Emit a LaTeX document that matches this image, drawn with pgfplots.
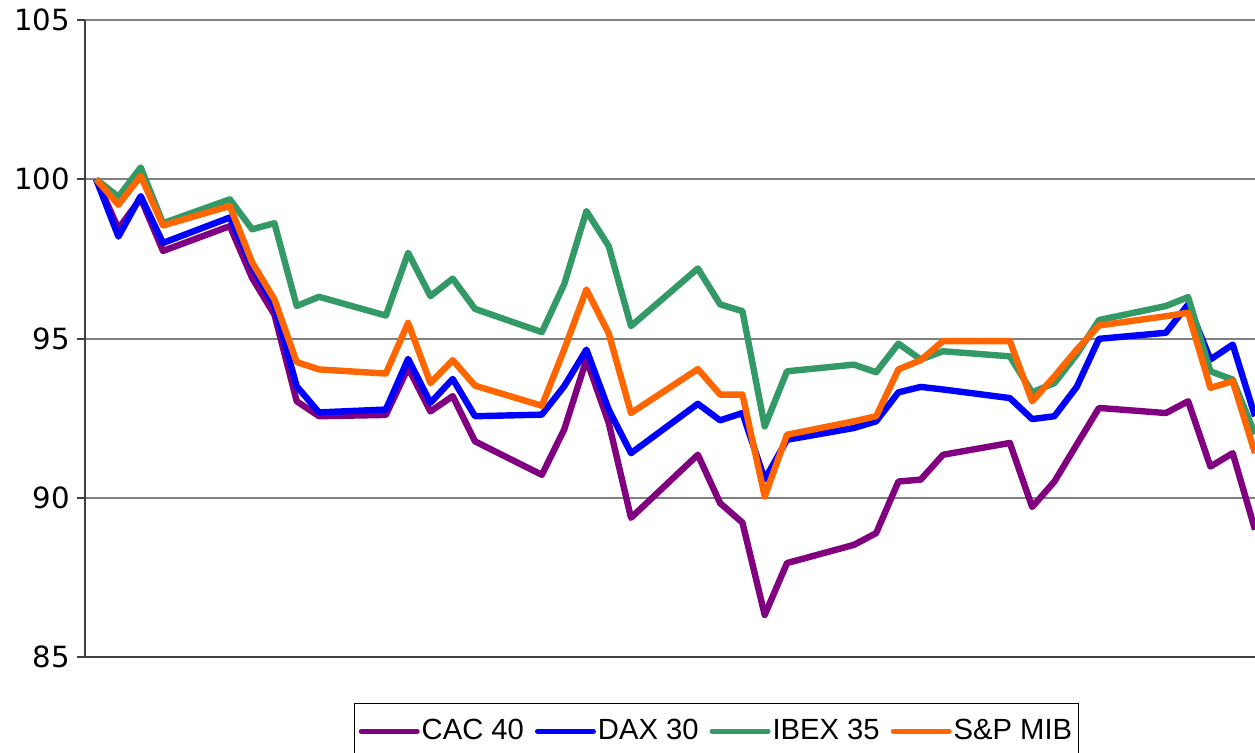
\documentclass[border=0pt]{standalone}
\usepackage{fontspec}
\setmainfont{Liberation Sans}
\newfontfamily\dejavu{DejaVu Sans}
\usepackage{pgfplots}
\usepackage{pgfplotstable}
\pgfplotsset{compat=1.18}

\definecolor{cac}{HTML}{800080}
\definecolor{dax}{HTML}{0000FF}
\definecolor{ibex}{HTML}{339966}
\definecolor{mib}{HTML}{FF6600}

% trading days (weekends left out), rebased to 100
\pgfplotstableread{
day cac dax ibex mib
0 100 100 100 100
1 98.45 98.20 99.45 99.20
2 99.40 99.47 100.37 100.10
3 97.75 98.00 98.62 98.55
6 98.53 98.80 99.37 99.16
7 96.90 97.27 98.43 97.39
8 95.75 96.02 98.62 96.23
9 93.03 93.50 96.02 94.26
10 92.56 92.68 96.31 94.03
13 92.60 92.77 95.72 93.90
14 94.08 94.36 97.69 95.49
15 92.71 92.98 96.33 93.60
16 93.19 93.73 96.88 94.32
17 91.77 92.56 95.93 93.52
20 90.72 92.61 95.20 92.89
21 92.14 93.50 96.70 94.65
22 94.34 94.65 99.00 96.54
23 92.35 92.77 97.90 95.16
24 89.37 91.40 95.39 92.66
27 91.35 92.95 97.20 94.04
28 89.83 92.43 96.07 93.24
29 89.22 92.66 95.86 93.24
30 86.32 90.57 92.24 90.04
31 87.95 91.82 93.97 91.98
34 88.52 92.19 94.18 92.40
35 88.89 92.40 93.94 92.56
36 90.51 93.31 94.84 94.03
37 90.57 93.48 94.34 94.32
38 91.35 93.40 94.60 94.92
41 91.72 93.13 94.44 94.92
42 89.71 92.47 93.31 93.03
43 90.51 92.56 93.60 93.81
44 91.67 93.48 94.50 94.65
45 92.82 94.99 95.58 95.41
48 92.66 95.18 96.02 95.70
49 93.03 96.07 96.30 95.81
50 90.98 94.34 93.97 93.45
51 91.40 94.81 93.71 93.66
52 89.00 92.56 92.00 91.40
}\indices

\begin{document}
\begin{tikzpicture}
\begin{axis}[
 scale only axis,width=585pt,height=318.5pt,
 at={(0,0)},anchor=south west,
 xmin=-0.5,xmax=52,ymin=85,ymax=105,
 xtick=\empty,ytick={85,90,95,100,105},
 axis lines=left,axis line style={-,line width=1pt,black!75},
 ymajorgrids,grid style={line width=1pt,gray},
 tick style={line width=1pt,black!75},
 major tick length=4pt,ytick pos=left,tick align=outside,
 /pgf/number format/assume math mode=true,
 yticklabel style={font=\dejavu\fontsize{14.6}{17}\selectfont},
 every axis plot/.append style={line width=3.2pt,line join=round},
 legend style={at={(0.5397,0)},yshift=-23pt,anchor=north,
  legend columns=4,draw=black,line width=0.5pt,
  font=\fontsize{14.6}{18}\selectfont,inner ysep=6pt,inner xsep=2pt,
  nodes={inner xsep=1pt},
  /tikz/every even column/.append style={column sep=4.5pt}},
 legend image code/.code={\draw[#1,line width=2.5pt,line cap=round] (1pt,0pt) -- (29pt,0pt);},
]
\addplot[cac] table[x=day,y=cac] {\indices};
\addplot[dax] table[x=day,y=dax] {\indices};
\addplot[ibex] table[x=day,y=ibex] {\indices};
\addplot[mib] table[x=day,y=mib] {\indices};
\legend{CAC 40,DAX 30,IBEX 35,S\&P MIB}
\end{axis}
\pgfresetboundingbox
\useasboundingbox (-42.5pt,-47.5pt) rectangle (585pt,328.5pt);
\end{tikzpicture}
\end{document}
